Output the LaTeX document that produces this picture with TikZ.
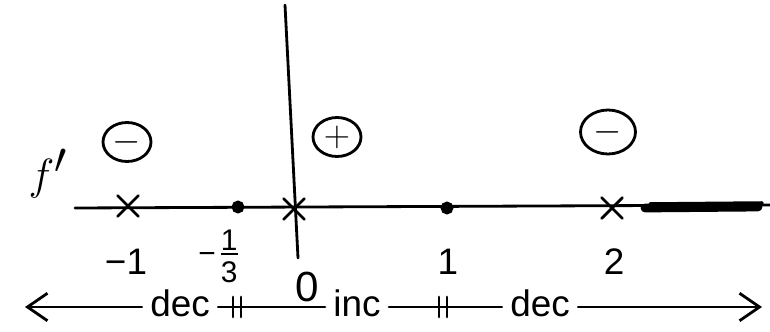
\documentclass[tikz,border=0pt]{standalone}
\usepackage{fontspec}
\setmainfont{Liberation Sans}
\usetikzlibrary{arrows.meta,shapes.misc,shapes.geometric}
\begin{document}
\begin{tikzpicture}[x=0.02cm,y=-0.02cm,line width=1.6pt,line cap=round,
  lbl/.style={font=\fontsize{21}{25}\selectfont,inner sep=0pt},
  wlbl/.style={lbl,inner xsep=4pt},
  sgn/.style={ellipse,draw,minimum width=0.96cm,minimum height=0.78cm,inner sep=0pt,font=\fontsize{20}{24}\selectfont},
  xmark/.style={cross out,draw,minimum size=0.36cm,inner sep=0pt},
  dotm/.style={circle,fill,draw,minimum size=0.2cm,inner sep=0pt},
  arr/.style={-{Straight Barb[length=4mm,width=5.5mm]}}]
\useasboundingbox (0,0) rectangle (770,331);
% vertical axis
\coordinate (vt) at (285,5);
\coordinate (vb) at (298,258);
\draw (vt) -- (vb);
% number line
\coordinate (hl) at (75,208);
\coordinate (hr) at (770,205);
\draw (hl) -- (hr);
\draw[line width=5pt] (645,208) -- (758,207);
\draw[line width=2pt] (650,204) -- (762,203);
% marks
\node[xmark] (m1) at (128,206) {};
\node[dotm] (m2) at (238,207) {};
\node[xmark] (m3) at (294,209) {};
\node[dotm] (m4) at (447,208) {};
\node[xmark] (m5) at (612,208) {};
% labels
\node[lbl] (n1) at (126,262) {−1};
\node[lbl,font=\fontsize{17}{19}\selectfont] (n2) at (218,256)
  {−\,{\setlength\arrayrulewidth{1.2pt}\renewcommand\arraystretch{1}\begin{tabular}{@{}c@{}}1\\[-4pt]\hline\noalign{\vskip2pt}3\\[-4pt]\end{tabular}}};
\node[lbl,font=\fontsize{24}{28}\selectfont] (n3) at (307,287) {0};
\node[lbl] (n4) at (448,262) {1};
\node[lbl] (n5) at (614,262) {2};
% f'
\node[inner sep=0pt,font=\fontsize{36}{40}\selectfont] (fp) at (48,174) {$f'$};
% signs
\node[sgn] (s1) at (127,142) {$-$};
\node[sgn] (s2) at (337,137) {$+$};
\node[sgn,minimum width=1.1cm,minimum height=0.88cm] (s3) at (608,132) {$-$};
% bottom arrow
\coordinate (bl) at (25,307);
\coordinate (br) at (762,307);
\node[wlbl] (d1) at (180,303) {dec};
\node[wlbl] (inc) at (357,303) {inc};
\node[wlbl] (d2) at (540,303) {dec};
\coordinate (t1) at (237,307);
\coordinate (t2) at (443,307);
\draw[arr] (d1.west |- bl) -- (bl);
\draw (d1.east |- t1) -- (t1);
\draw (t1) -- (inc.west |- t1);
\draw (inc.east |- t2) -- (t2);
\draw (t2) -- (d2.west |- t2);
\draw[arr] (d2.east |- br) -- (br);
\draw (t1) ++(-4,-10) -- ++(0,20);
\draw (t1) ++(4,-10) -- ++(0,20);
\draw (t2) ++(-4,-10) -- ++(0,20);
\draw (t2) ++(4,-10) -- ++(0,20);
\end{tikzpicture}
\end{document}
